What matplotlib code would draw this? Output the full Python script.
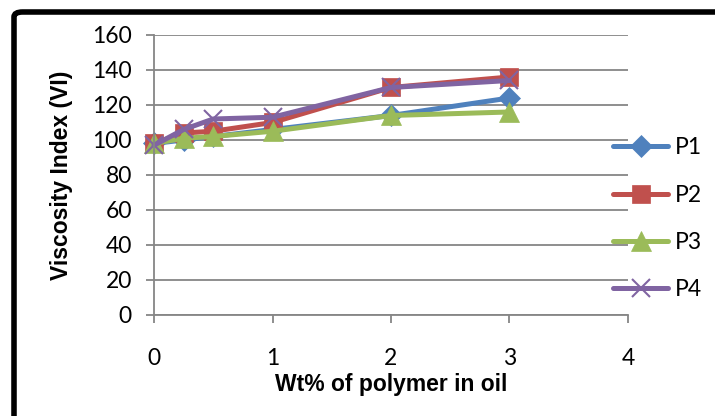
import matplotlib
matplotlib.use("Agg")
import matplotlib.pyplot as plt
from matplotlib.patches import FancyBboxPatch

# Viscosity index vs. polymer concentration
wt = [0, 0.25, 0.5, 1, 2, 3]
p1 = [98, 100, 102, 106, 114, 124]
p2 = [98, 104, 105, 110, 130, 136]
p3 = [98, 101, 102, 105, 114, 116]
p4 = [97, 106, 112, 113, 130, 134]

series = [
    ("P1", p1, "#4F81BD", "D", 11),
    ("P2", p2, "#C0504D", "s", 13),
    ("P3", p3, "#9BBB59", "^", 14),
    ("P4", p4, "#8064A2", "x", 13),
]

fig = plt.figure(figsize=(7.15, 4.16), dpi=100)
ax = fig.add_axes([0.2154, 0.2428, 0.8783 - 0.2154, 0.9159 - 0.2428])

for name, vals, col, mk, ms in series:
    ax.plot(wt, vals, color=col, lw=3.6, marker=mk, markersize=ms,
            markeredgewidth=1.5 if mk == "x" else 0.5,
            markeredgecolor=col, markerfacecolor=col, label=name,
            solid_capstyle="round", clip_on=False)

ax.set_xlim(0, 4)
ax.set_ylim(0, 160)
ax.set_xticks([0, 1, 2, 3, 4])
ax.set_yticks(range(0, 161, 20))
ax.yaxis.grid(True, color="#868686", lw=1.3)
ax.set_axisbelow(True)
for s in ["top", "right"]:
    ax.spines[s].set_visible(False)
for s in ["left", "bottom"]:
    ax.spines[s].set_color("#868686")
    ax.spines[s].set_linewidth(1.3)
ax.tick_params(colors="#868686", length=6, width=1.3, labelcolor="black",
               labelsize=16.5)
for lab in ax.get_xticklabels() + ax.get_yticklabels():
    lab.set_fontfamily("Lato")
ax.tick_params(axis="x", pad=18)
ax.tick_params(axis="y", pad=10)

ax.set_xlabel("Wt% of polymer in oil", fontsize=16.5, fontweight="bold",
              fontfamily="Liberation Sans", labelpad=3)
ax.set_ylabel("Viscosity Index (VI)", fontsize=16.5, fontweight="bold",
              fontfamily="Liberation Sans", labelpad=14)

leg = fig.legend(loc="center left", bbox_to_anchor=(0.845, 0.474),
                 frameon=False, prop={"family": "Lato", "size": 16.5},
                 handlelength=2.4, labelspacing=1.15, handletextpad=0.3,
                 borderaxespad=0)

# heavy outline around the chart, running off the right and bottom
fig.patches.append(FancyBboxPatch((14 / 715, -0.2), 1.2, (404 / 416) + 0.2,
                                  boxstyle="round,pad=0,rounding_size=0.012",
                                  transform=fig.transFigure, fill=False,
                                  ec="black", lw=4))

fig.savefig("out.png", dpi=100)
